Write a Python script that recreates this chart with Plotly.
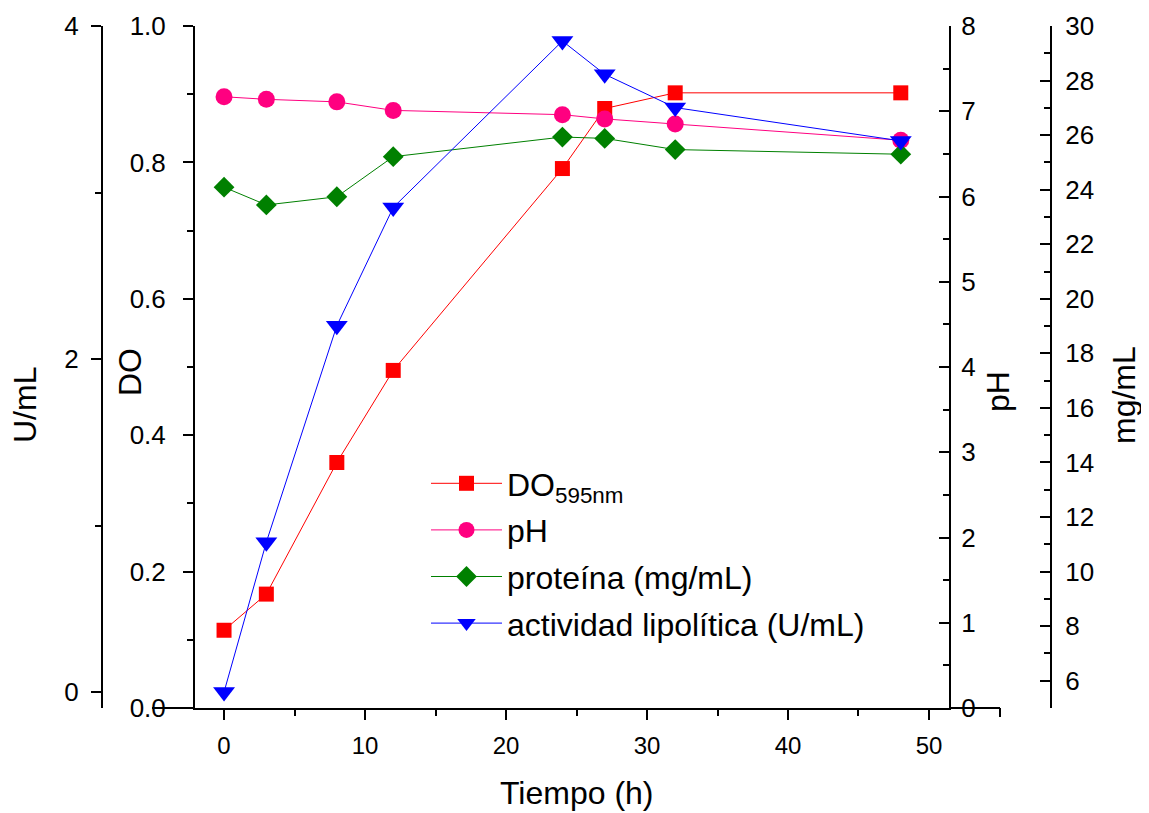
import plotly.graph_objects as go

# ---- data ----
tiempo = [0, 3, 8, 12, 24, 27, 32, 48]
do_595 = [0.114, 0.167, 0.360, 0.495, 0.791, 0.879, 0.902, 0.902]
ph = [7.17, 7.14, 7.11, 7.01, 6.96, 6.91, 6.85, 6.66]
proteina = [24.09, 23.44, 23.74, 25.21, 25.93, 25.88, 25.47, 25.30]
actividad = [0.00, 0.90, 2.20, 2.91, 3.91, 3.71, 3.51, 3.31]

# page body has an 8px margin: the figure is drawn 8px right/down
OFF = 8
W, H = 1141, 805
PL, PR, PT, PB = 102, 1051, 26, 708      # plot area on screen
L = PL - OFF
T = PT - OFF
PW = PR - PL
PH_ = PB - PT
R = W - L - PW
B = H - T - PH_


def px(xs):
    return (xs - PL) / PW


def py(ys):
    return (PB - ys) / PH_


FONT = "Liberation Sans, Arial, sans-serif"
YTICKF = dict(family=FONT, size=26, color="black")
XTICKF = dict(family=FONT, size=24, color="black")
TITLEF = dict(family=FONT, size=32, color="black")

fig = go.Figure()
fig.add_trace(go.Scatter(
    x=tiempo, y=do_595, mode="lines+markers", name="DO<sub>595nm</sub>",
    line=dict(color="#FF0000", width=1),
    marker=dict(symbol="square", size=15, color="#FF0000"),
    yaxis="y", legendgroup="a"))
fig.add_trace(go.Scatter(
    x=tiempo, y=ph, mode="lines+markers", name="pH",
    line=dict(color="#FF0080", width=1),
    marker=dict(symbol="circle", size=17, color="#FF0080"),
    yaxis="y2", legendgroup="b"))
fig.add_trace(go.Scatter(
    x=tiempo, y=proteina, mode="lines+markers", name="proteína (mg/mL)",
    line=dict(color="#008000", width=1),
    marker=dict(symbol="diamond", size=16, color="#008000"),
    yaxis="y3", legendgroup="c"))
fig.add_trace(go.Scatter(
    x=tiempo, y=actividad, mode="lines+markers", name="actividad lipolítica (U/mL)",
    line=dict(color="#0000FF", width=1),
    marker=dict(symbol="triangle-down", size=19, color="#0000FF"),
    yaxis="y4", legendgroup="d"))

common = dict(showgrid=False, zeroline=False, showline=True, linecolor="black",
              linewidth=2, tickcolor="black", tickwidth=2, ticklen=10,
              automargin=False)
minor_out = dict(ticks="outside", ticklen=6, tickwidth=2, tickcolor="black")
minor_in = dict(ticks="inside", ticklen=6, tickwidth=2, tickcolor="black")

fig.update_layout(
    width=W, height=H,
    margin=dict(l=L, r=R, t=T, b=B, autoexpand=False),
    plot_bgcolor="white", paper_bgcolor="white",
    font=dict(family=FONT, color="black"),
    xaxis=dict(domain=[px(195), px(949)], range=[-2.06, 51.42],
               tickmode="linear", tick0=0, dtick=10, ticks="outside",
               tickfont=XTICKF, ticklabelstandoff=5,
               minor=dict(dtick=10, tick0=5, **minor_out), **common),
    yaxis=dict(range=[0, 1.0], tickmode="linear", tick0=0, dtick=0.2,
               tickformat=".1f", ticks="outside", tickfont=YTICKF,
               ticklabelstandoff=12,
               minor=dict(dtick=0.1, **minor_out), **common),
    yaxis2=dict(range=[0, 8], overlaying="y", side="right", anchor="x",
                tickmode="linear", tick0=0, dtick=1, ticks="inside",
                tickfont=YTICKF, ticklabelstandoff=5,
                minor=dict(dtick=0.5, **minor_in), **common),
    yaxis3=dict(range=[5, 30], overlaying="y", side="right", anchor="free",
                position=1.0, tickmode="linear", tick0=6, dtick=2,
                ticks="inside", tickfont=YTICKF, ticklabelstandoff=8,
                minor=dict(dtick=1, tick0=5, **minor_in), **common),
    yaxis4=dict(range=[-0.096, 4], overlaying="y", side="left", anchor="free",
                position=0.0, tickmode="linear", tick0=0, dtick=2,
                ticks="outside", tickfont=YTICKF, ticklabelstandoff=7,
                minor=dict(dtick=1, **minor_out), **common),
    legend=dict(x=px(426), y=py(456), xanchor="left", yanchor="top",
                bgcolor="rgba(0,0,0,0)", font=dict(family=FONT, size=32),
                tracegroupgap=2, itemwidth=71),
    showlegend=True,
)

annos = [
    dict(text="U/mL", x=px(25), y=py(405), textangle=-90),
    dict(text="DO", x=px(130), y=py(372), textangle=-90),
    dict(text="pH", x=px(998), y=py(392), textangle=-90),
    dict(text="mg/mL", x=px(1124), y=py(395), textangle=-90),
    dict(text="Tiempo (h)", x=px(577), y=py(793), textangle=0),
]
for a in annos:
    fig.add_annotation(xref="paper", yref="paper", showarrow=False,
                       xanchor="center", yanchor="middle",
                       font=TITLEF, **a)

# bottom baseline extensions (as in the original figure)
line = dict(color="black", width=2)
fig.add_shape(type="line", xref="paper", yref="paper",
              x0=px(152), x1=px(195), y0=0, y1=0, line=line)
fig.add_shape(type="line", xref="paper", yref="paper",
              x0=px(949), x1=px(1000), y0=0, y1=0, line=line)
fig.add_shape(type="line", xref="paper", yref="paper",
              x0=px(1000), x1=px(1000), y0=0, y1=py(717), line=line)

fig.write_html("out.html")
